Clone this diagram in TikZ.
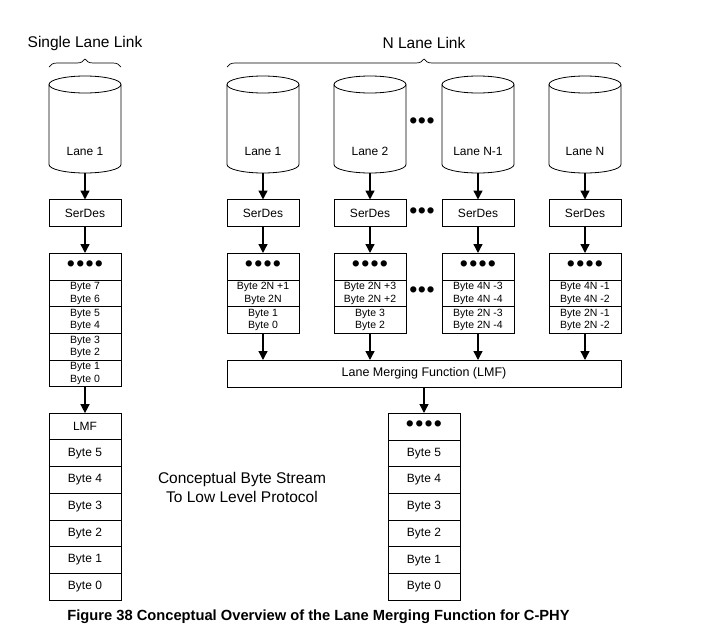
\documentclass[tikz,border=0pt]{standalone}
\usepackage{fontspec}
\setmainfont{Liberation Sans}
\usetikzlibrary{arrows.meta,positioning,decorations.pathreplacing}
\tikzset{
  lanebody/.style={minimum width=72pt, minimum height=97pt, inner sep=0pt, outer sep=0pt},
  cylline/.style={line width=0.8pt},
  box/.style={draw, line width=0.8pt, minimum width=72pt, minimum height=27pt,
    inner sep=0pt, outer sep=0pt, font=\fontsize{12}{14}\selectfont},
  pair/.style={box, minimum height=26.7pt, align=center, font=\fontsize{10.5}{12.6}\selectfont},
  byte/.style={box, minimum height=26.7pt},
  dotbox/.style={box, font=\fontsize{23}{23}\selectfont},
  flow/.style={line width=1.4pt, -{Triangle[length=9pt,width=9pt]}},
  linkbrace/.style={decorate, decoration={brace, amplitude=8pt}, line width=0.7pt},
  dotsep/.style={font=\fontsize{23}{23}\selectfont, inner sep=0pt},
  lanetext/.style={font=\fontsize{12}{14}\selectfont},
  bigtext/.style={font=\fontsize{15.5}{19}\selectfont, align=center},
}
\newcommand{\fourdots}{•\hspace{1.3pt}•\hspace{1.3pt}•\hspace{1.3pt}•}
\newcommand{\threedots}{•\hspace{0.6pt}•\hspace{0.6pt}•}
% cylinder outline on a lane node
\newcommand{\drawlane}[1]{%
  \draw[cylline] ([yshift=-8.5pt]#1.north) ellipse [x radius=36, y radius=8.5];
  \draw[cylline] ([yshift=-8.5pt]#1.north west) -- ([yshift=8.5pt]#1.south west)
    arc[start angle=180, end angle=0, x radius=36, y radius=8.5] -- ([yshift=-8.5pt]#1.north east);}
\begin{document}
\begin{tikzpicture}[x=1pt, y=-1pt]
\useasboundingbox (0,0) rectangle (710,637);
% single lane link
\node[lanebody, label={[lanetext, yshift=-26.5pt]center:Lane 1}] (scyl) at (85,124.5) {};
\drawlane{scyl}
\coordinate (sbl) at (49,67); \coordinate (sbr) at (121,67);
\draw[linkbrace] (sbl) -- (sbr);
\node[bigtext] (stitle) at (85,43) {Single Lane Link};
\node[box] (sser) at (85,213) {SerDes};
\node[dotbox] (sdots) at (85,266.5) {\fourdots};
\node[pair, below=0pt of sdots] (s76) {Byte 7\\Byte 6};
\node[pair, below=0pt of s76] (s54) {Byte 5\\Byte 4};
\node[pair, below=0pt of s54] (s32) {Byte 3\\Byte 2};
\node[pair, below=0pt of s32] (s10) {Byte 1\\Byte 0};
\node[byte] (slmf) at (85,426.5) {LMF};
\foreach \b [remember=\b as \prev (initially lmf)] in {5,4,3,2,1,0}
  \node[byte, below=0pt of s\prev] (s\b) {Byte \b};
\draw[flow] (scyl.south) -- (sser.north);
\draw[flow] (sser.south) -- (sdots.north);
\draw[flow] (s10.south) -- (slmf.north);

% n lane link
\coordinate (nbl) at (227,67); \coordinate (nbr) at (621,67);
\draw[linkbrace] (nbl) -- (nbr);
\node[bigtext] (ntitle) at (424,43) {N Lane Link};
\foreach \x/\lane/\a/\b/\c/\d [count=\k] in {
    263/Lane 1/Byte 2N +1/Byte 2N/Byte 1/Byte 0,
    370/Lane 2/Byte 2N +3/Byte 2N +2/Byte 3/Byte 2,
    478/Lane N-1/Byte 4N -3/Byte 4N -4/Byte 2N -3/Byte 2N -4,
    585/Lane N/Byte 4N -1/Byte 4N -2/Byte 2N -1/Byte 2N -2} {
  \node[lanebody, label={[lanetext, yshift=-26.5pt]center:\lane}] (cyl\k) at (\x,124.5) {};
  \drawlane{cyl\k}
  \node[box] (ser\k) at (\x,213) {SerDes};
  \node[dotbox] (dots\k) at (\x,266.5) {\fourdots};
  \node[pair, below=0pt of dots\k] (hi\k) {\a\\\b};
  \node[pair, below=0pt of hi\k] (lo\k) {\c\\\d};
  \draw[flow] (cyl\k.south) -- (ser\k.north);
  \draw[flow] (ser\k.south) -- (dots\k.north);
}
\node[dotsep] (gapcyl) at (422,123) {\threedots};
\node[dotsep] (gapser) at (422,213) {\threedots};
\node[dotsep] (gapbuf) at (422,292) {\threedots};
\node[box, minimum width=394pt, font=\fontsize{12.5}{14}\selectfont] (lmf) at (424,373.5) {Lane Merging Function (LMF)};
\foreach \k in {1,...,4}
  \draw[flow] (lo\k.south) -- (lo\k.south |- lmf.north);

% merged byte stream
\node[dotbox] (mdots) at (424,426.5) {\fourdots};
\foreach \b [remember=\b as \prev (initially dots)] in {5,4,3,2,1,0}
  \node[byte, below=0pt of m\prev] (m\b) {Byte \b};
\draw[flow] (lmf.south) -- (mdots.north);

\node[bigtext] (stream) at (242,487) {Conceptual Byte Stream\\To Low Level Protocol};
\node[font=\bfseries\fontsize{14.7}{17}\selectfont] (cap) at (318.5,617) {Figure 38 Conceptual Overview of the Lane Merging Function for C-PHY};
\end{tikzpicture}
\end{document}
